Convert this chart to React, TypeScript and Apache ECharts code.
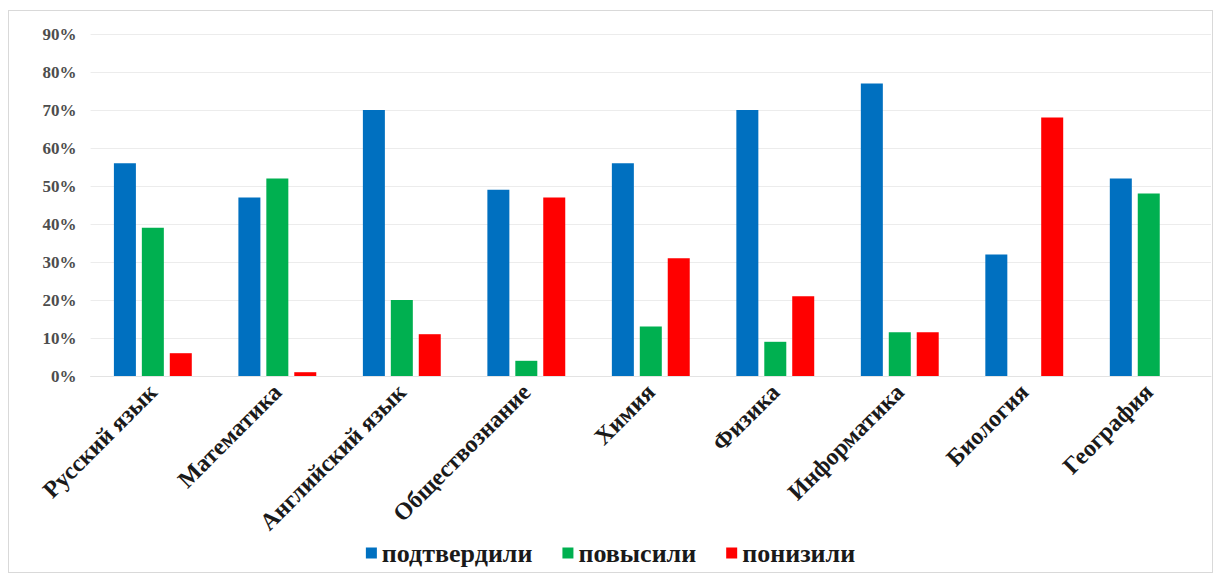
import React, { useEffect, useRef } from "react";
import * as echarts from "echarts";

const categories = [
  "Русский язык",
  "Математика",
  "Английский язык",
  "Обществознание",
  "Химия",
  "Физика",
  "Информатика",
  "Биология",
  "География",
];
const confirmed = [56, 47, 70, 49, 56, 70, 77, 32, 52];
const raised = [39, 52, 20, 4, 13, 9, 11.5, 0, 48];
const lowered = [6, 1, 11, 47, 31, 21, 11.5, 68, 0];
const seriesNames = ["подтвердили", "повысили", "понизили"];
const colors = ["#0070C0", "#00B050", "#FF0000"];
const yTicks = [0, 10, 20, 30, 40, 50, 60, 70, 80, 90];

const serif = "'Liberation Serif', 'Times New Roman', serif";

export default function App() {
  const ref = useRef<HTMLDivElement>(null);
  useEffect(() => {
    if (!ref.current) return;
    const chart = echarts.init(ref.current, undefined, { renderer: "svg" });
    const data = [confirmed, raised, lowered];
    chart.setOption({
      animation: false,
      backgroundColor: "#ffffff",
      grid: { left: 81.6, right: 1, top: 23, height: 342, containLabel: false },
      legend: {
        bottom: 1,
        left: "center",
        itemWidth: 11,
        itemHeight: 11,
        itemGap: 30,
        icon: "rect",
        data: seriesNames,
        textStyle: { fontFamily: serif, fontWeight: "bold", fontSize: 26, color: "#1a1a1a" },
      },
      xAxis: {
        type: "category",
        data: categories,
        axisLine: { show: true, lineStyle: { color: "#e3e3e3" } },
        axisTick: { show: false },
        axisLabel: {
          rotate: 45,
          interval: 0,
          margin: 12,
          fontFamily: serif,
          fontWeight: "bold",
          fontSize: 24,
          color: "#1a1a1a",
        },
      },
      yAxis: {
        type: "value",
        min: yTicks[0],
        max: yTicks[yTicks.length - 1],
        interval: 10,
        axisLine: { show: false },
        axisTick: { show: false },
        splitLine: { lineStyle: { color: "#ececec" } },
        axisLabel: {
          margin: 14,
          formatter: "{value}%",
          fontFamily: serif,
          fontWeight: "bold",
          fontSize: 17,
          color: "#4d4d4d",
        },
      },
      series: seriesNames.map((name, i) => ({
        name,
        type: "bar",
        data: data[i],
        barWidth: 22,
        barGap: "27%",
        itemStyle: { color: colors[i] },
      })),
    });
    return () => chart.dispose();
  }, []);
  return (
    <div
      ref={ref}
      style={{
        width: 1205,
        height: 563,
        marginTop: 2,
        boxSizing: "border-box",
        border: "1px solid #d9d9d9",
      }}
    />
  );
}
